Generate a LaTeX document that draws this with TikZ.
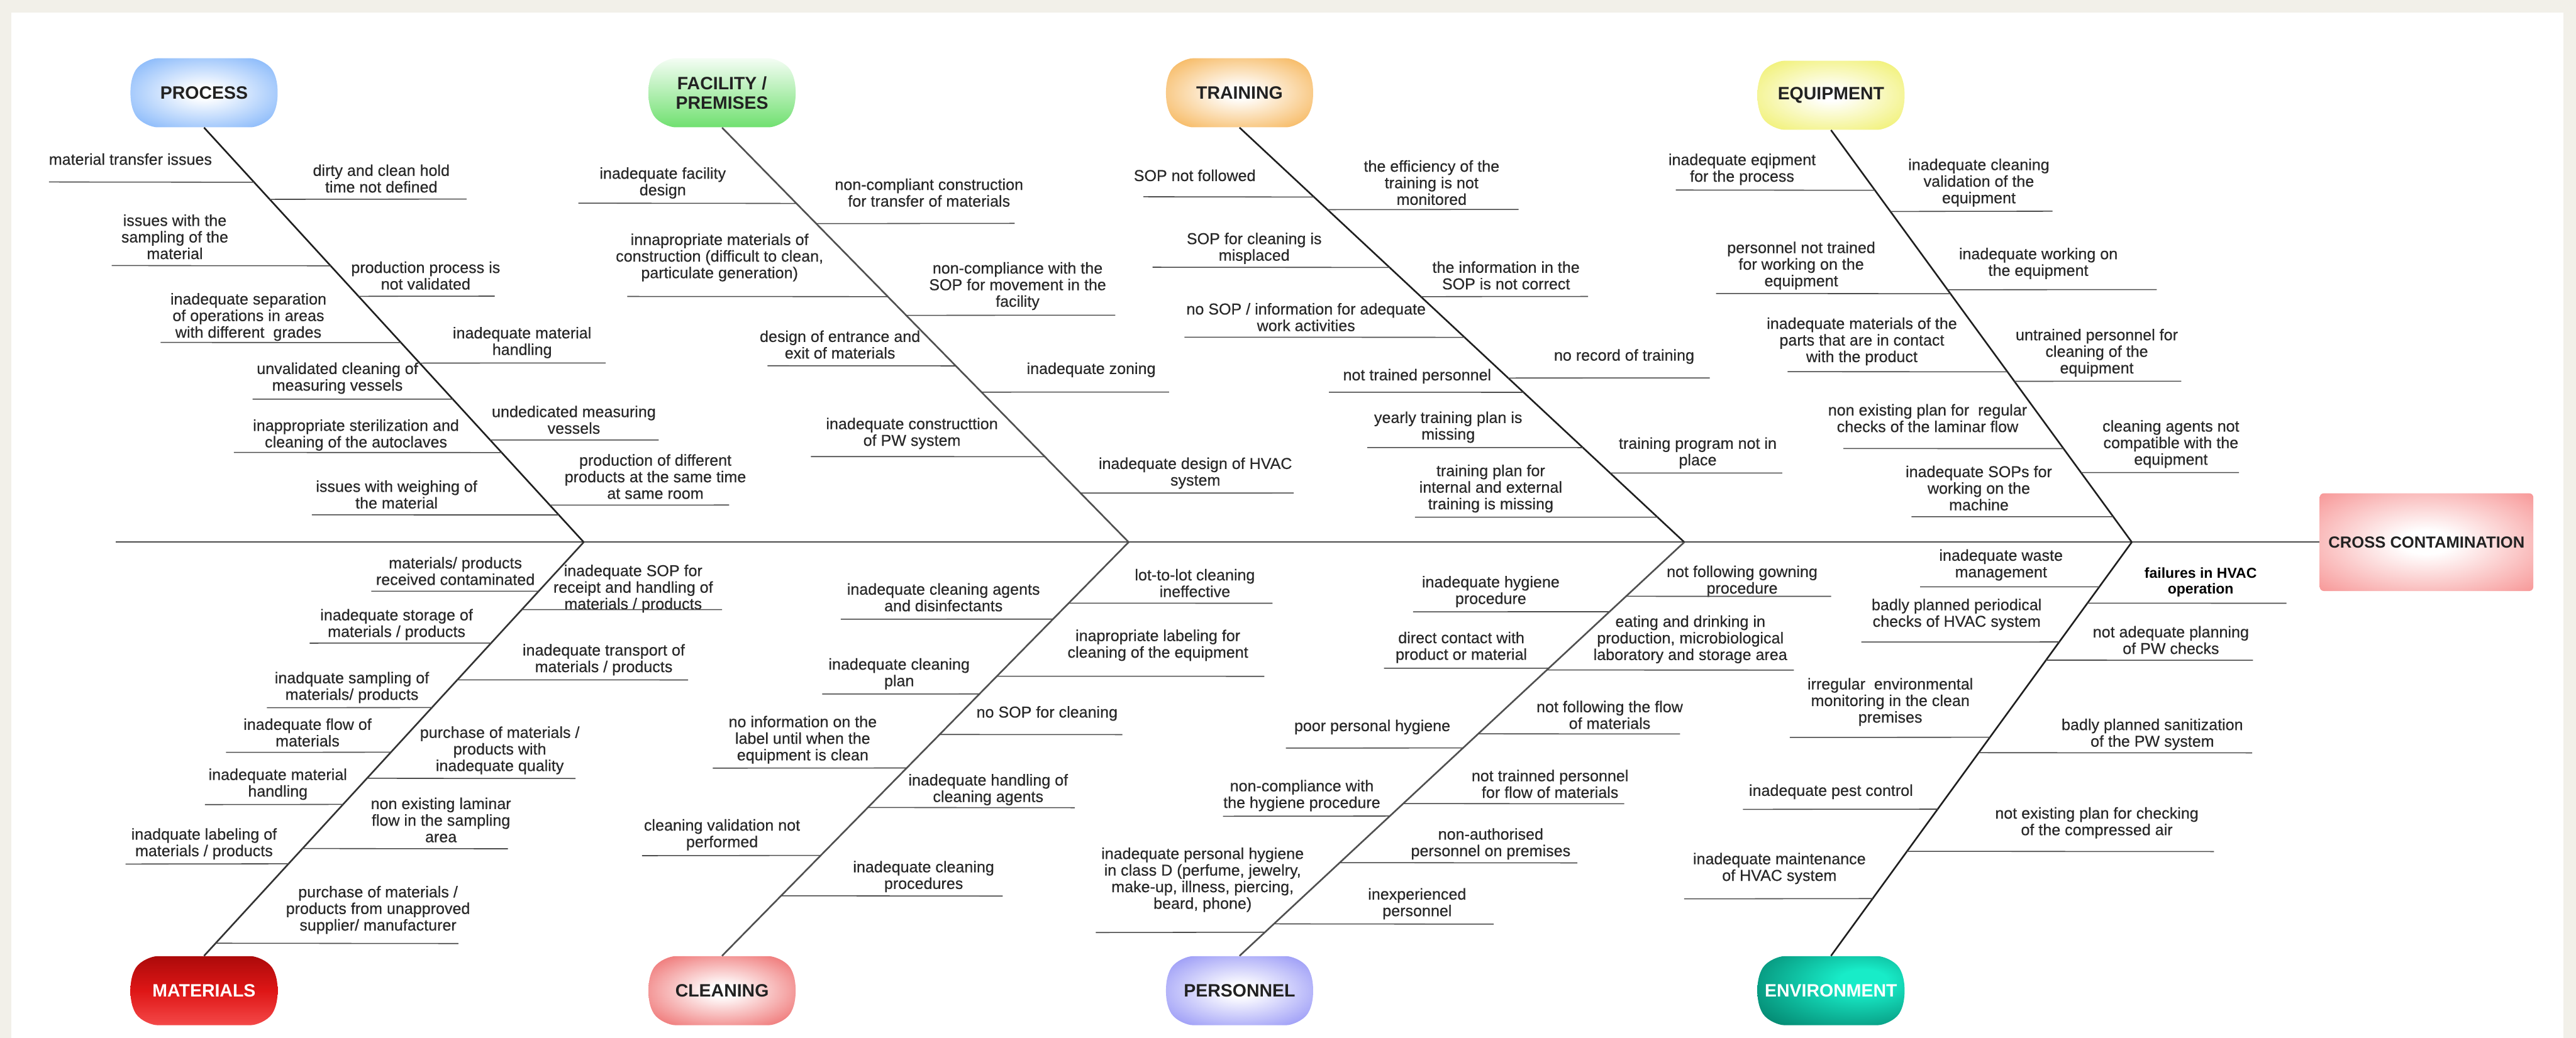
\documentclass[tikz,border=0pt]{standalone}
\usepackage{fontspec}
\setmainfont{Liberation Sans}
\newfontfamily\lblfam{Liberation Sans}[FakeBold=0.4]
\usetikzlibrary{calc}
\definecolor{bgbeige}{RGB}{242,240,233}
\definecolor{lblgray}{RGB}{40,40,40}
\definecolor{linegray}{RGB}{75,75,75}
\definecolor{spinegray}{RGB}{75,75,75}
\definecolor{bonegray}{RGB}{80,80,80}
\definecolor{catdark}{RGB}{34,34,34}
\definecolor{procblue}{RGB}{128,180,250}
\definecolor{facgreen}{RGB}{112,224,112}
\definecolor{faclight}{RGB}{244,253,244}
\definecolor{trainorange}{RGB}{246,180,86}
\definecolor{equipyellow}{RGB}{240,240,108}
\definecolor{matdark}{RGB}{172,10,10}
\definecolor{matmid}{RGB}{222,22,22}
\definecolor{matlight}{RGB}{244,72,72}
\definecolor{cleanred}{RGB}{238,108,108}
\definecolor{perblue}{RGB}{148,148,246}
\definecolor{envdark}{RGB}{0,116,96}
\definecolor{envlight}{RGB}{24,236,200}
\definecolor{ccred}{RGB}{246,136,136}
\pgfdeclareradialshading{procshade}{\pgfpoint{0bp}{0bp}}{color(0bp)=(white); color(4bp)=(white); color(34bp)=(procblue); color(100bp)=(procblue)}
\pgfdeclareradialshading{trainshade}{\pgfpoint{0bp}{0bp}}{color(0bp)=(white); color(4bp)=(white); color(34bp)=(trainorange); color(100bp)=(trainorange)}
\pgfdeclareradialshading{equipshade}{\pgfpoint{0bp}{0bp}}{color(0bp)=(white); color(4bp)=(white); color(34bp)=(equipyellow); color(100bp)=(equipyellow)}
\pgfdeclareradialshading{cleanshade}{\pgfpoint{0bp}{0bp}}{color(0bp)=(white); color(4bp)=(white); color(34bp)=(cleanred); color(100bp)=(cleanred)}
\pgfdeclareradialshading{pershade}{\pgfpoint{0bp}{0bp}}{color(0bp)=(white); color(4bp)=(white); color(34bp)=(perblue); color(100bp)=(perblue)}
\pgfdeclareradialshading{envshade}{\pgfpoint{12bp}{8bp}}{color(0bp)=(envlight); color(8bp)=(envlight); color(46bp)=(envdark); color(100bp)=(envdark)}
\pgfdeclareradialshading{ccshade}{\pgfpoint{0bp}{0bp}}{color(0bp)=(white); color(6bp)=(white); color(40bp)=(ccred); color(100bp)=(ccred)}
\newcommand\fbLbl{\lblfam\fontsize{9.6pt}{10.1pt}\selectfont}
\newcommand\fbCat{\fontsize{10.9pt}{11.9pt}\selectfont\bfseries}
\newcommand\fbCC{\fontsize{9.8pt}{11pt}\selectfont\bfseries}
\newcommand\fbBold{\fontsize{8.8pt}{9.8pt}\selectfont\bfseries}
\newcommand\fbBarrel[3]{%
\path[#3] ({#1-28.5},{#2-21}) -- ({#1+28.5},{#2-21}) .. controls ({#1+31.5},{#2-21}) and ({#1+38.5},{#2-18.5}) .. ({#1+41.5},{#2-14}) .. controls ({#1+44},{#2-10}) and ({#1+44.8},{#2-5}) .. ({#1+44.8},{#2}) .. controls ({#1+44.8},{#2+5}) and ({#1+44},{#2+10}) .. ({#1+41.5},{#2+14}) .. controls ({#1+38.5},{#2+18.5}) and ({#1+31.5},{#2+21}) .. ({#1+28.5},{#2+21}) -- ({#1-28.5},{#2+21}) .. controls ({#1-31.5},{#2+21}) and ({#1-38.5},{#2+18.5}) .. ({#1-41.5},{#2+14}) .. controls ({#1-44},{#2+10}) and ({#1-44.8},{#2+5}) .. ({#1-44.8},{#2}) .. controls ({#1-44.8},{#2-5}) and ({#1-44},{#2-10}) .. ({#1-41.5},{#2-14}) .. controls ({#1-38.5},{#2-18.5}) and ({#1-31.5},{#2-21}) .. ({#1-28.5},{#2-21}) -- cycle;}
\newcommand\fbLine[6]{\draw[lbline] (#6,#5) -- ($(#1)!{0+(#5-#3)/(#4-#3)}!(#2)$);}
\begin{document}
\begin{tikzpicture}[x=1pt,y=-1pt,
  lbl/.style={font=\fbLbl, text=lblgray, align=center, inner sep=0pt},
  lbline/.style={draw=linegray, line width=0.6pt},
  bone/.style={draw=black!88, line width=1pt},
  spine/.style={draw=spinegray, line width=0.9pt},
  cat/.style={minimum width=89.6pt, minimum height=42pt, inner sep=0pt, font=\fbCat, text=catdark, align=center},
  ccbox/.style={minimum width=130pt, minimum height=59.5pt, inner sep=0pt, rounded corners=2.5pt, shading=ccshade, font=\fbCC, text=catdark}
]
\fill[bgbeige] (0,0) rectangle (1568,632);
\fill[white] (7,7.6) rectangle (1560.4,632);
\useasboundingbox (0,0) rectangle (1568,632);

% category nodes
\fbBarrel{124.2}{56.5}{shading=procshade}
\node[cat] (proc) at (124.2,56.5) {PROCESS};
\fbBarrel{439.5}{56.5}{top color=faclight, bottom color=facgreen}
\node[cat] (fac) at (439.5,56.5) {FACILITY /\\PREMISES};
\fbBarrel{754.5}{56.5}{shading=trainshade}
\node[cat] (train) at (754.5,56.5) {TRAINING};
\fbBarrel{1114.5}{58}{shading=equipshade}
\node[cat] (equip) at (1114.5,58) {EQUIPMENT};
\fbBarrel{124.2}{603.2}{top color=matdark, bottom color=matlight, middle color=matmid}
\node[cat, text=white] (mat) at (124.2,603.2) {MATERIALS};
\fbBarrel{439.5}{603.2}{shading=cleanshade}
\node[cat] (clean) at (439.5,603.2) {CLEANING};
\fbBarrel{754.5}{603.2}{shading=pershade}
\node[cat] (pers) at (754.5,603.2) {PERSONNEL};
\fbBarrel{1114.5}{603.2}{shading=envshade}
\node[cat, text=white] (env) at (1114.5,603.2) {ENVIRONMENT};

\node[ccbox] (cc) at (1477,330.1) {CROSS CONTAMINATION};

% spine and bones
\coordinate (tail) at (70.5,330.1);
\coordinate (v1) at (355.3,330.1);
\coordinate (v2) at (687,330.1);
\coordinate (v3) at (1025.2,330.1);
\coordinate (v4) at (1297.6,330.1);
\draw[spine] (tail) -- (cc.west);
\draw[bone] (proc.south) -- (v1);
\draw[bone, draw=black!80] (v1) -- (mat.north);
\draw[bone, draw=bonegray] (fac.south) -- (v2);
\draw[bone, draw=bonegray] (v2) -- (clean.north);
\draw[bone] (train.south) -- (v3);
\draw[bone, draw=bonegray] (v3) -- (pers.north);
\draw[bone] (equip.south) -- (v4);
\draw[bone] (v4) -- (env.north);

% PROCESS
\node[lbl] (pr1) at (79.4,96.9) {material transfer issues};
\node[lbl] (pr2) at (232.1,108.7) {dirty and clean hold\\time not defined};
\node[lbl] (pr3) at (106.4,144.2) {issues with the\\sampling of the\\material};
\node[lbl] (pr4) at (259.1,167.8) {production process is\\not validated};
\node[lbl] (pr5) at (151.2,193.0) {inadequate separation\\of operations in areas\\with different\ \ grades};
\node[lbl] (pr6) at (317.8,208.6) {inadequate material\\handling};
\node[lbl] (pr7) at (205.4,230.3) {unvalidated cleaning of\\measuring vessels};
\node[lbl] (pr8) at (349.3,255.6) {undedicated measuring\\vessels};
\node[lbl] (pr9) at (216.7,264.9) {inappropriate sterilization and\\cleaning of the autoclaves};
\node[lbl] (pr10) at (398.9,290.2) {production of different\\products at the same time\\at same room};
\node[lbl] (pr11) at (241.4,301.1) {issues with weighing of\\the material};
\fbLine{proc.south}{v1}{77.5}{330.1}{110.8}{29.8}
\fbLine{proc.south}{v1}{77.5}{330.1}{121.2}{284.0}
\fbLine{proc.south}{v1}{77.5}{330.1}{161.7}{68.0}
\fbLine{proc.south}{v1}{77.5}{330.1}{180.3}{301.1}
\fbLine{proc.south}{v1}{77.5}{330.1}{208.5}{97.8}
\fbLine{proc.south}{v1}{77.5}{330.1}{221.0}{368.7}
\fbLine{proc.south}{v1}{77.5}{330.1}{243.0}{153.7}
\fbLine{proc.south}{v1}{77.5}{330.1}{267.9}{400.9}
\fbLine{proc.south}{v1}{77.5}{330.1}{275.5}{142.4}
\fbLine{proc.south}{v1}{77.5}{330.1}{307.5}{443.8}
\fbLine{proc.south}{v1}{77.5}{330.1}{313.5}{189.8}

% MATERIALS
\node[lbl] (ma1) at (277.2,347.7) {materials/ products\\received contaminated};
\node[lbl] (ma2) at (241.4,380.3) {inadequate storage of\\materials / products};
\node[lbl] (ma3) at (214.2,418.6) {inadquate sampling of\\materials/ products};
\node[lbl] (ma4) at (187.2,446.0) {inadequate flow of\\materials};
\node[lbl] (ma5) at (169.1,477.5) {inadequate material\\handling};
\node[lbl] (ma6) at (124.2,513.8) {inadquate labeling of\\materials / products};
\node[lbl] (ma7) at (385.4,358.4) {inadequate SOP for\\receipt and handling of\\materials / products};
\node[lbl] (ma8) at (367.5,401.7) {inadequate transport of\\materials / products};
\node[lbl] (ma9) at (304.2,456.9) {purchase of materials /\\products with\\inadequate quality};
\node[lbl] (ma10) at (268.4,499.3) {non existing laminar\\flow in the sampling\\area};
\node[lbl] (ma11) at (230.1,554.0) {purchase of materials /\\products from unapproved\\supplier/ manufacturer};
\fbLine{v1}{mat.north}{330.1}{582.2}{360.0}{226.0}
\fbLine{v1}{mat.north}{330.1}{582.2}{391.6}{188.5}
\fbLine{v1}{mat.north}{330.1}{582.2}{430.9}{162.5}
\fbLine{v1}{mat.north}{330.1}{582.2}{458.1}{137.6}
\fbLine{v1}{mat.north}{330.1}{582.2}{489.9}{124.7}
\fbLine{v1}{mat.north}{330.1}{582.2}{526.1}{76.4}
\fbLine{v1}{mat.north}{330.1}{582.2}{371.2}{439.5}
\fbLine{v1}{mat.north}{330.1}{582.2}{414.0}{418.8}
\fbLine{v1}{mat.north}{330.1}{582.2}{474.0}{350.3}
\fbLine{v1}{mat.north}{330.1}{582.2}{516.8}{309.2}
\fbLine{v1}{mat.north}{330.1}{582.2}{574.5}{279.0}

% FACILITY
\node[lbl] (fa1) at (403.4,111.4) {inadequate facility\\design};
\node[lbl] (fa2) at (438.0,156.8) {innapropriate materials of\\construction (difficult to clean,\\particulate generation)};
\node[lbl] (fa3) at (511.3,209.8) {design of entrance and\\exit of materials};
\node[lbl] (fa4) at (555.1,263.9) {inadequate constructtion\\of PW system};
\node[lbl] (fa5) at (565.5,117.3) {non-compliant construction\\for transfer of materials};
\node[lbl] (fa6) at (619.4,174.2) {non-compliance with the\\SOP for movement in the\\facility};
\node[lbl] (fa7) at (664.2,225.2) {inadequate zoning};
\node[lbl] (fa8) at (727.6,288.1) {inadequate design of HVAC\\system};
\fbLine{fac.south}{v2}{77.5}{330.1}{123.7}{352.0}
\fbLine{fac.south}{v2}{77.5}{330.1}{180.5}{381.8}
\fbLine{fac.south}{v2}{77.5}{330.1}{222.7}{467.2}
\fbLine{fac.south}{v2}{77.5}{330.1}{278.0}{493.6}
\fbLine{fac.south}{v2}{77.5}{330.1}{136.0}{617.6}
\fbLine{fac.south}{v2}{77.5}{330.1}{191.9}{678.9}
\fbLine{fac.south}{v2}{77.5}{330.1}{238.7}{711.6}
\fbLine{fac.south}{v2}{77.5}{330.1}{300.2}{787.5}

% CLEANING
\node[lbl] (cl1) at (574.3,363.7) {inadequate cleaning agents\\and disinfectants};
\node[lbl] (cl2) at (547.3,410.3) {inadequate cleaning\\plan};
\node[lbl] (cl3) at (488.6,450.4) {no information on the\\label until when the\\equipment is clean};
\node[lbl] (cl4) at (439.5,508.3) {cleaning validation not\\performed};
\node[lbl] (cl5) at (727.3,355.0) {lot-to-lot cleaning\\ineffective};
\node[lbl] (cl6) at (704.8,392.9) {inapropriate labeling for\\cleaning of the equipment};
\node[lbl] (cl7) at (637.3,434.4) {no SOP for cleaning};
\node[lbl] (cl8) at (601.5,480.8) {inadequate handling of\\cleaning agents};
\node[lbl] (cl9) at (562.2,533.7) {inadequate cleaning\\procedures};
\fbLine{v2}{clean.north}{330.1}{582.2}{377.0}{511.8}
\fbLine{v2}{clean.north}{330.1}{582.2}{422.6}{500.5}
\fbLine{v2}{clean.north}{330.1}{582.2}{467.7}{433.9}
\fbLine{v2}{clean.north}{330.1}{582.2}{521.0}{390.8}
\fbLine{v2}{clean.north}{330.1}{582.2}{367.3}{774.6}
\fbLine{v2}{clean.north}{330.1}{582.2}{411.8}{769.6}
\fbLine{v2}{clean.north}{330.1}{582.2}{447.3}{683.2}
\fbLine{v2}{clean.north}{330.1}{582.2}{491.8}{654.2}
\fbLine{v2}{clean.north}{330.1}{582.2}{545.6}{610.3}

% TRAINING
\node[lbl] (tr1) at (727.2,106.8) {SOP not followed};
\node[lbl] (tr2) at (763.4,151.2) {SOP for cleaning is\\misplaced};
\node[lbl] (tr3) at (795.0,193.1) {no SOP / information for adequate\\work activities};
\node[lbl] (tr4) at (862.6,229.1) {not trained personnel};
\node[lbl] (tr5) at (881.5,260.1) {yearly training plan is\\missing};
\node[lbl] (tr6) at (907.4,297.5) {training plan for\\internal and external\\training is missing};
\node[lbl] (tr7) at (871.4,111.2) {the efficiency of the\\training is not\\monitored};
\node[lbl] (tr8) at (916.7,167.7) {the information in the\\SOP is not correct};
\node[lbl] (tr9) at (988.6,217.1) {no record of training};
\node[lbl] (tr10) at (1033.4,275.8) {training program not in\\place};
\fbLine{train.south}{v3}{77.5}{330.1}{119.8}{696.0}
\fbLine{train.south}{v3}{77.5}{330.1}{162.7}{701.5}
\fbLine{train.south}{v3}{77.5}{330.1}{205.3}{721.0}
\fbLine{train.south}{v3}{77.5}{330.1}{238.8}{808.9}
\fbLine{train.south}{v3}{77.5}{330.1}{272.5}{832.3}
\fbLine{train.south}{v3}{77.5}{330.1}{314.9}{861.3}
\fbLine{train.south}{v3}{77.5}{330.1}{127.5}{924.3}
\fbLine{train.south}{v3}{77.5}{330.1}{180.5}{966.6}
\fbLine{train.south}{v3}{77.5}{330.1}{230.1}{1040.7}
\fbLine{train.south}{v3}{77.5}{330.1}{288.0}{1084.8}

% PERSONNEL
\node[lbl] (pe1) at (907.4,360.2) {inadequate hygiene\\procedure};
\node[lbl] (pe2) at (889.5,394.2) {direct contact with\\product or material};
\node[lbl] (pe3) at (835.3,442.7) {poor personal hygiene};
\node[lbl] (pe4) at (792.4,484.4) {non-compliance with\\the hygiene procedure};
\node[lbl] (pe5) at (732.0,535.7) {inadequate personal hygiene\\in class D (perfume, jewelry,\\make-up, illness, piercing,\\beard, phone)};
\node[lbl] (pe6) at (1060.4,353.9) {not following gowning\\procedure};
\node[lbl] (pe7) at (1028.9,389.3) {eating and drinking in\\production, microbiological\\laboratory and storage area};
\node[lbl] (pe8) at (979.8,435.3) {not following the flow\\of materials};
\node[lbl] (pe9) at (943.5,477.3) {not trainned personnel\\for flow of materials};
\node[lbl] (pe10) at (907.4,513.8) {non-authorised\\personnel on premises};
\node[lbl] (pe11) at (862.6,550.3) {inexperienced\\personnel};
\fbLine{v3}{pers.north}{330.1}{582.2}{372.5}{860.1}
\fbLine{v3}{pers.north}{330.1}{582.2}{406.9}{842.4}
\fbLine{v3}{pers.north}{330.1}{582.2}{455.5}{782.7}
\fbLine{v3}{pers.north}{330.1}{582.2}{497.0}{744.4}
\fbLine{v3}{pers.north}{330.1}{582.2}{567.8}{667.0}
\fbLine{v3}{pers.north}{330.1}{582.2}{363.1}{1114.6}
\fbLine{v3}{pers.north}{330.1}{582.2}{408.0}{1091.9}
\fbLine{v3}{pers.north}{330.1}{582.2}{446.9}{1022.6}
\fbLine{v3}{pers.north}{330.1}{582.2}{489.4}{988.6}
\fbLine{v3}{pers.north}{330.1}{582.2}{525.4}{960.1}
\fbLine{v3}{pers.north}{330.1}{582.2}{562.7}{909.2}

% EQUIPMENT
\node[lbl] (eq1) at (1060.4,103.1) {inadequate eqipment\\for the process};
\node[lbl] (eq2) at (1096.4,161.7) {personnel not trained\\for working on the\\equipment};
\node[lbl] (eq3) at (1133.3,207.9) {inadequate materials of the\\parts that are in contact\\with the product};
\node[lbl] (eq4) at (1173.3,254.6) {non existing plan for\ \ regular\\checks of the laminar flow};
\node[lbl] (eq5) at (1204.5,297.2) {inadequate SOPs for\\working on the\\machine};
\node[lbl] (eq6) at (1204.5,111.2) {inadequate cleaning\\validation of the\\equipment};
\node[lbl] (eq7) at (1240.7,160.4) {inadequate working on\\the equipment};
\node[lbl] (eq8) at (1276.3,214.8) {untrained personnel for\\cleaning of the\\equipment};
\node[lbl] (eq9) at (1321.4,270.4) {cleaning agents not\\compatible with the\\equipment};
\fbLine{equip.south}{v4}{79}{330.1}{115.7}{1020.0}
\fbLine{equip.south}{v4}{79}{330.1}{178.7}{1044.5}
\fbLine{equip.south}{v4}{79}{330.1}{226.3}{1088.1}
\fbLine{equip.south}{v4}{79}{330.1}{273.1}{1122.1}
\fbLine{equip.south}{v4}{79}{330.1}{314.6}{1163.5}
\fbLine{equip.south}{v4}{79}{330.1}{128.6}{1249.3}
\fbLine{equip.south}{v4}{79}{330.1}{176.3}{1312.8}
\fbLine{equip.south}{v4}{79}{330.1}{232.1}{1327.7}
\fbLine{equip.south}{v4}{79}{330.1}{287.7}{1362.8}

% ENVIRONMENT
\node[lbl] (en1) at (1218.0,344.0) {inadequate waste\\management};
\node[lbl] (en2) at (1191.0,374.1) {badly planned periodical\\checks of HVAC system};
\node[lbl] (en3) at (1150.6,427.4) {irregular\ \ environmental\\monitoring in the clean\\premises};
\node[lbl] (en4) at (1114.5,482.1) {inadequate pest control};
\node[lbl] (en5) at (1083.1,528.8) {inadequate maintenance\\of HVAC system};
\node[lbl, font=\fbBold, text=black] (en6) at (1339.5,354.5) {failures in HVAC\\operation};
\node[lbl] (en7) at (1321.4,389.7) {not adequate planning\\of PW checks};
\node[lbl] (en8) at (1310.1,447.1) {badly planned sanitization\\of the PW system};
\node[lbl] (en9) at (1276.3,501.0) {not existing plan for checking\\of the compressed air};
\fbLine{v4}{env.north}{330.1}{582.2}{357.3}{1168.8}
\fbLine{v4}{env.north}{330.1}{582.2}{390.9}{1133.0}
\fbLine{v4}{env.north}{330.1}{582.2}{449.0}{1089.4}
\fbLine{v4}{env.north}{330.1}{582.2}{492.8}{1060.9}
\fbLine{v4}{env.north}{330.1}{582.2}{547.3}{1025.1}
\fbLine{v4}{env.north}{330.1}{582.2}{367.3}{1391.7}
\fbLine{v4}{env.north}{330.1}{582.2}{402.0}{1371.4}
\fbLine{v4}{env.north}{330.1}{582.2}{458.4}{1370.9}
\fbLine{v4}{env.north}{330.1}{582.2}{518.5}{1347.6}
\end{tikzpicture}
\end{document}
